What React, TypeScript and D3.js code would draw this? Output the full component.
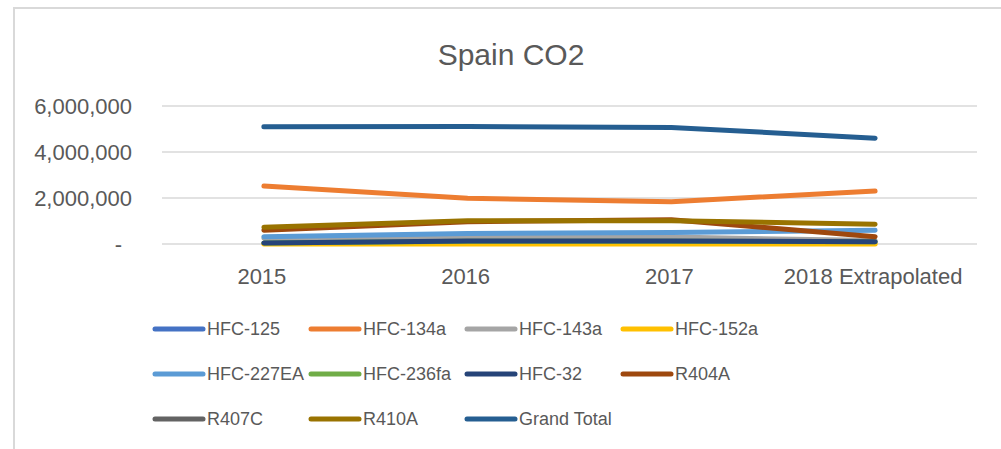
import { useEffect, useRef } from "react";
import * as d3 from "d3";

const categories = ["2015", "2016", "2017", "2018 Extrapolated"];
const seriesNames = [
  "HFC-125", "HFC-134a", "HFC-143a", "HFC-152a",
  "HFC-227EA", "HFC-236fa", "HFC-32", "R404A",
  "R407C", "R410A", "Grand Total",
];
const seriesColors = [
  "#4472C4", "#ED7D31", "#A5A5A5", "#FFC000",
  "#5B9BD5", "#70AD47", "#264478", "#9E480E",
  "#636363", "#997300", "#255E91",
];
const hfc125 = [30000, 110000, 110000, 90000];
const hfc134a = [2520000, 1990000, 1840000, 2300000];
const hfc143a = [250000, 320000, 300000, 150000];
const hfc152a = [0, 0, 0, 0];
const hfc227ea = [320000, 460000, 500000, 600000];
const hfc236fa = [40000, 120000, 120000, 95000];
const hfc32 = [40000, 130000, 130000, 100000];
const r404a = [600000, 970000, 1050000, 320000];
// R407C has no plotted values (blank cells)
const r407c: (number | null)[] = [null, null, null, null];
const r410a = [730000, 1010000, 1010000, 860000];
const grandTotal = [5100000, 5110000, 5070000, 4600000];
const yTicks = [0, 2000000, 4000000, 6000000];

const seriesValues: (number | null)[][] = [
  hfc125, hfc134a, hfc143a, hfc152a, hfc227ea, hfc236fa,
  hfc32, r404a, r407c, r410a, grandTotal,
];

const App = () => {
  const ref = useRef<SVGSVGElement | null>(null);

  useEffect(() => {
    if (!ref.current) return;
    const svg = d3.select(ref.current);
    svg.selectAll("*").remove();

    const font = "'Liberation Sans', Arial, sans-serif";
    const textColor = "#595959";

    // chart border
    svg.append("rect")
      .attr("x", 14).attr("y", 8)
      .attr("width", 1010).attr("height", 460)
      .attr("fill", "white")
      .attr("stroke", "#d9d9d9")
      .attr("stroke-width", 2);

    svg.append("text")
      .attr("x", 511).attr("y", 65)
      .attr("text-anchor", "middle")
      .attr("font-family", font)
      .attr("font-size", 30)
      .attr("fill", textColor)
      .text("Spain CO2");

    const x = d3.scaleBand().domain(categories).range([162, 977]);
    const y = d3.scaleLinear().domain([0, 6000000]).range([244, 106]);

    svg.append("g")
      .selectAll("line")
      .data(yTicks)
      .join("line")
      .attr("x1", 162).attr("x2", 977)
      .attr("y1", d => y(d)).attr("y2", d => y(d))
      .attr("stroke", "#d9d9d9")
      .attr("stroke-width", 1.5);

    svg.append("g")
      .selectAll("text")
      .data(yTicks)
      .join("text")
      .attr("x", d => (d === 0 ? 122 : 132))
      .attr("y", d => y(d))
      .attr("dy", "0.36em")
      .attr("text-anchor", "end")
      .attr("font-family", font)
      .attr("font-size", 22)
      .attr("fill", textColor)
      .text(d => (d === 0 ? "-" : d3.format(",")(d)));

    svg.append("g")
      .selectAll("text")
      .data(categories)
      .join("text")
      .attr("x", d => x(d)! + x.bandwidth() / 2 - 2)
      .attr("y", 284)
      .attr("text-anchor", "middle")
      .attr("font-family", font)
      .attr("font-size", 22)
      .attr("fill", textColor)
      .text(d => d);

    const line = d3.line<number | null>()
      .defined(d => d !== null)
      .x((_, i) => x(categories[i])! + x.bandwidth() / 2)
      .y(d => y(d as number));

    svg.append("g")
      .selectAll("path")
      .data(seriesValues)
      .join("path")
      .attr("d", d => line(d) ?? "")
      .attr("fill", "none")
      .attr("stroke", (_, i) => seriesColors[i])
      .attr("stroke-width", 5)
      .attr("stroke-linecap", "round")
      .attr("stroke-linejoin", "round");

    // legend, 4 columns
    const legend = svg.append("g")
      .selectAll("g")
      .data(seriesNames)
      .join("g")
      .attr("transform", (_, i) => `translate(${155 + (i % 4) * 156},${329 + Math.floor(i / 4) * 45})`);

    legend.append("line")
      .attr("x1", 0).attr("x2", 48)
      .attr("stroke", (_, i) => seriesColors[i])
      .attr("stroke-width", 5)
      .attr("stroke-linecap", "round");

    legend.append("text")
      .attr("x", 52)
      .attr("dy", "0.36em")
      .attr("font-family", font)
      .attr("font-size", 18)
      .attr("fill", textColor)
      .text(d => d);
  }, []);

  return (
    <svg
      ref={ref}
      width={1001}
      height={449}
      style={{ position: "absolute", left: 0, top: 0, background: "white" }}
    />
  );
};

export default App;
